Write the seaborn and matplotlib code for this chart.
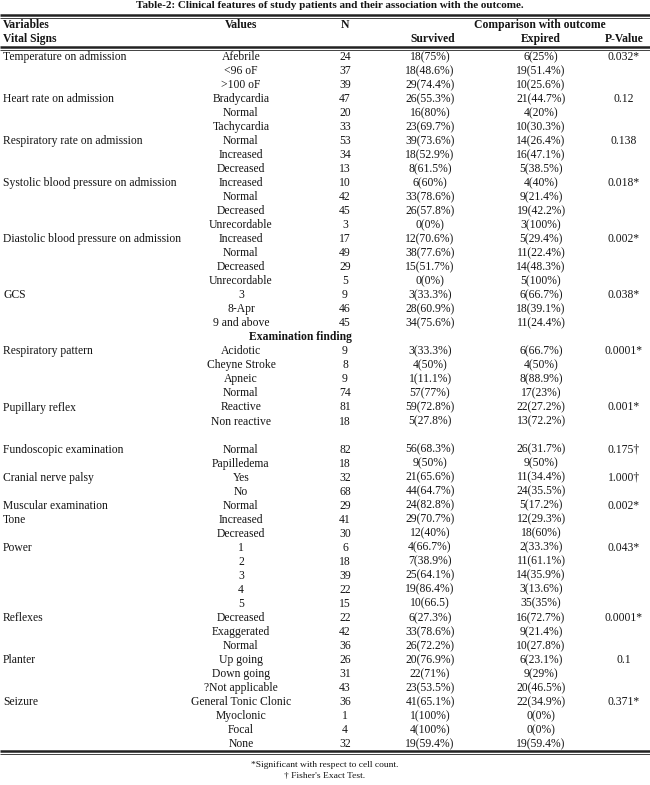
import matplotlib
matplotlib.use("Agg")
import matplotlib.pyplot as plt
import seaborn as sns

sns.set_theme(style="white")
plt.rcParams['font.family'] = ['Liberation Serif', 'DejaVu Serif']

title = "Table-2: Clinical features of study patients and their association with the outcome."

variables = ["Temperature on admission", "", "",
             "Heart rate on admission", "", "",
             "Respiratory rate on admission", "", "",
             "Systolic blood pressure on admission", "", "", "",
             "Diastolic blood pressure on admission", "", "", "",
             "GCS", "", "",
             "",
             "Respiratory pattern", "", "", "",
             "Pupillary reflex", "",
             "",
             "Fundoscopic examination", "",
             "Cranial nerve palsy", "",
             "Muscular examination",
             "Tone", "",
             "Power", "", "", "", "",
             "Reflexes", "", "",
             "Planter", "", "",
             "Seizure", "", "", ""]

values = ["Afebrile", "<96 oF", ">100 oF",
          "Bradycardia", "Normal", "Tachycardia",
          "Normal", "Increased", "Decreased",
          "Increased", "Normal", "Decreased", "Unrecordable",
          "Increased", "Normal", "Decreased", "Unrecordable",
          "3", "8-Apr", "9 and above",
          "",
          "Acidotic", "Cheyne Stroke", "Apneic", "Normal",
          "Reactive", "Non reactive",
          "",
          "Normal", "Papilledema",
          "Yes", "No",
          "Normal",
          "Increased", "Decreased",
          "1", "2", "3", "4", "5",
          "Decreased", "Exaggerated", "Normal",
          "Up going", "Down going", "?Not applicable",
          "General Tonic Clonic", "Myoclonic", "Focal", "None"]

n_values = ["24", "37", "39",
            "47", "20", "33",
            "53", "34", "13",
            "10", "42", "45", "3",
            "17", "49", "29", "5",
            "9", "46", "45",
            "",
            "9", "8", "9", "74",
            "81", "18",
            "",
            "82", "18",
            "32", "68",
            "29",
            "41", "30",
            "6", "18", "39", "22", "15",
            "22", "42", "36",
            "26", "31", "43",
            "36", "1", "4", "32"]

survived = ["18(75%)", "18(48.6%)", "29(74.4%)",
            "26(55.3%)", "16(80%)", "23(69.7%)",
            "39(73.6%)", "18(52.9%)", "8(61.5%)",
            "6(60%)", "33(78.6%)", "26(57.8%)", "0(0%)",
            "12(70.6%)", "38(77.6%)", "15(51.7%)", "0(0%)",
            "3(33.3%)", "28(60.9%)", "34(75.6%)",
            "",
            "3(33.3%)", "4(50%)", "1(11.1%)", "57(77%)",
            "59(72.8%)", "5(27.8%)",
            "",
            "56(68.3%)", "9(50%)",
            "21(65.6%)", "44(64.7%)",
            "24(82.8%)",
            "29(70.7%)", "12(40%)",
            "4(66.7%)", "7(38.9%)", "25(64.1%)", "19(86.4%)", "10(66.5)",
            "6(27.3%)", "33(78.6%)", "26(72.2%)",
            "20(76.9%)", "22(71%)", "23(53.5%)",
            "41(65.1%)", "1(100%)", "4(100%)", "19(59.4%)"]

expired = ["6(25%)", "19(51.4%)", "10(25.6%)",
           "21(44.7%)", "4(20%)", "10(30.3%)",
           "14(26.4%)", "16(47.1%)", "5(38.5%)",
           "4(40%)", "9(21.4%)", "19(42.2%)", "3(100%)",
           "5(29.4%)", "11(22.4%)", "14(48.3%)", "5(100%)",
           "6(66.7%)", "18(39.1%)", "11(24.4%)",
           "",
           "6(66.7%)", "4(50%)", "8(88.9%)", "17(23%)",
           "22(27.2%)", "13(72.2%)",
           "",
           "26(31.7%)", "9(50%)",
           "11(34.4%)", "24(35.5%)",
           "5(17.2%)",
           "12(29.3%)", "18(60%)",
           "2(33.3%)", "11(61.1%)", "14(35.9%)", "3(13.6%)", "35(35%)",
           "16(72.7%)", "9(21.4%)", "10(27.8%)",
           "6(23.1%)", "9(29%)", "20(46.5%)",
           "22(34.9%)", "0(0%)", "0(0%)", "19(59.4%)"]

p_values = ["0.032*", "", "",
            "0.12", "", "",
            "0.138", "", "",
            "0.018*", "", "", "",
            "0.002*", "", "", "",
            "0.038*", "", "",
            "",
            "0.0001*", "", "", "",
            "0.001*", "",
            "",
            "0.175\u2020", "",
            "1.000\u2020", "",
            "0.002*",
            "", "",
            "0.043*", "", "", "", "",
            "0.0001*", "", "",
            "0.1", "", "",
            "0.371*", "", "", ""]

section_row = 20
section_label = "Examination finding"
footnotes = ["*Significant with respect to cell count.", "\u2020 Fisher's Exact Test."]

W, H = 650, 785
fig = plt.figure(figsize=(W / 100, H / 100), dpi=100)
ax = fig.add_axes([0, 0, 1, 1])
ax.set_xlim(0, W)
ax.set_ylim(H, 0)
ax.axis("off")

ink = "#151515"
fs = 8.4

ax.text(330, 6, title, ha="center", va="center", fontsize=8.0, fontweight="bold", color=ink)

# rules
for y, lw in [(14.5, 1.8), (17.5, 0.6), (46.5, 1.8), (49.5, 0.6), (751, 1.8), (754, 0.6)]:
    ax.hlines(y, 0, W, color="#222222", lw=lw)

x_var, x_val, x_n, x_sur, x_exp, x_p = 3, 241, 345, 430, 541, 624

# header
ax.text(x_var, 25, "Variables", ha="left", va="center", fontsize=fs, fontweight="bold", color=ink)
ax.text(x_var, 39, "Vital Signs", ha="left", va="center", fontsize=fs, fontweight="bold", color=ink)
ax.text(x_val, 25, "Values", ha="center", va="center", fontsize=fs, fontweight="bold", color=ink)
ax.text(x_n, 25, "N", ha="center", va="center", fontsize=fs, fontweight="bold", color=ink)
ax.text(540, 25, "Comparison with outcome", ha="center", va="center", fontsize=fs, fontweight="bold", color=ink)
ax.text(x_sur + 3, 39, "Survived", ha="center", va="center", fontsize=fs, fontweight="bold", color=ink)
ax.text(x_exp, 39, "Expired", ha="center", va="center", fontsize=fs, fontweight="bold", color=ink)
ax.text(x_p, 39, "P-Value", ha="center", va="center", fontsize=fs, fontweight="bold", color=ink)

y0, step = 57, 14.02
for i in range(len(values)):
    y = y0 + i * step
    if i == section_row:
        ax.text(300, y, section_label, ha="center", va="center", fontsize=fs, fontweight="bold", color=ink)
        continue
    ax.text(x_var, y, variables[i], ha="left", va="center", fontsize=fs, color=ink)
    ax.text(x_val, y, values[i], ha="center", va="center", fontsize=fs, color=ink)
    ax.text(x_n, y, n_values[i], ha="center", va="center", fontsize=fs, color=ink)
    ax.text(x_sur, y, survived[i], ha="center", va="center", fontsize=fs, color=ink)
    ax.text(x_exp, y, expired[i], ha="center", va="center", fontsize=fs, color=ink)
    ax.text(x_p, y, p_values[i], ha="center", va="center", fontsize=fs, color=ink)

ax.text(325, 765, footnotes[0], ha="center", va="center", fontsize=6.8, color=ink)
ax.text(325, 776, footnotes[1], ha="center", va="center", fontsize=6.8, color=ink)

fig.savefig("out.png", dpi=100, facecolor="white")
